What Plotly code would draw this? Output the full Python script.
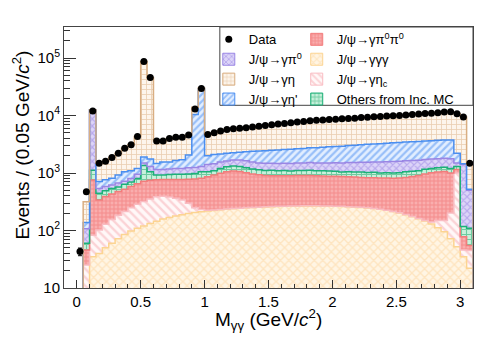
"""
M(gamma gamma) stacked MC vs data, log scale
"""

import numpy as np
import plotly.graph_objects as go

# 0.05 GeV bins from 0.00 to 3.10
bin_lo = 0.0
bin_w = 0.05

data_counts = [
    43, 470, 12000, 1480, 1600, 1860, 2200, 2700, 3100, 4300,
    87000, 46000, 3600, 3600, 4000, 4200, 4200, 4600, 13000, 29600,
    4700, 5000, 5400, 5700, 5900, 6000, 6100, 6300, 6500, 6700,
    6900, 7100, 7300, 7500, 7700, 7900, 8100, 8300, 8400, 8500,
    8600, 8800, 8900, 9000, 9200, 9300, 9500, 9600, 9800, 9900,
    10000, 10200, 10400, 10600, 10800, 11000, 11200, 11500, 11600, 10700,
    9400, 1480,
]

# MC components, listed bottom of the stack first
mc_ggg = [
    0, 0, 35, 40, 50, 60, 72, 85, 98, 110,
    120, 132, 145, 158, 168, 178, 188, 197, 205, 212,
    218, 224, 230, 235, 240, 244, 248, 251, 254, 257,
    260, 262, 264, 266, 267, 268, 268, 268, 267, 266,
    264, 262, 259, 256, 252, 247, 241, 234, 225, 214,
    202, 188, 174, 160, 146, 130, 112, 95, 72, 52,
    35, 22,
]
mc_etac = [
    0, 25, 48, 62, 78, 95, 112, 130, 150, 175,
    200, 220, 240, 235, 215, 185, 150, 100, 45, 20,
    8, 4, 2, 1, 1, 1, 1, 1, 1, 1,
    1, 1, 1, 1, 1, 1, 1, 1, 1, 1,
    1, 1, 1, 1, 1, 1, 1, 1, 1, 1,
    1, 1, 1, 1, 3, 10, 38, 55, 130, 950,
    11, 23,
]
mc_pi0pi0 = [
    0, 21, 673, 238, 262, 275, 291, 305, 332, 365,
    400, 398, 375, 377, 387, 407, 432, 483, 540, 578,
    634, 692, 758, 814, 839, 815, 761, 708, 675, 652,
    639, 637, 635, 633, 637, 641, 636, 631, 622, 613,
    615, 607, 600, 593, 587, 582, 588, 585, 594, 595,
    617, 651, 695, 749, 811, 870, 890, 910, 798, 148,
    32, 10,
]
mc_others = [
    0, 14, 364, 105, 100, 110, 95, 120, 120, 150,
    630, 300, 160, 150, 170, 180, 180, 180, 190, 240,
    190, 180, 210, 230, 250, 240, 230, 220, 210, 200,
    215, 200, 210, 185, 205, 200, 215, 200, 200, 200,
    190, 175, 190, 190, 205, 190, 200, 180, 190, 190,
    190, 215, 200, 185, 200, 190, 190, 200, 200, 150,
    39, 55,
]
mc_pi0 = [
    0, 47, 11380, 95, 90, 80, 100, 80, 100, 150,
    150, 250, 230, 230, 240, 250, 250, 270, 270, 250,
    350, 350, 350, 340, 350, 380, 400, 380, 360, 370,
    370, 370, 370, 380, 380, 380, 400, 400, 410, 420,
    440, 450, 470, 480, 500, 520, 520, 550, 560, 580,
    590, 580, 580, 580, 560, 550, 550, 540, 580, 200,
    1283, 390,
]
mc_etap = [
    0, 31, 50, 170, 180, 190, 250, 330, 300, 250,
    400, 450, 320, 400, 370, 450, 500, 820, 9150, 27700,
    600, 650, 600, 580, 570, 620, 710, 820, 920, 970,
    1010, 1050, 1080, 1120, 1150, 1190, 1220, 1260, 1300, 1350,
    1390, 1440, 1480, 1530, 1570, 1610, 1650, 1690, 1730, 1770,
    1800, 1830, 1850, 1860, 1880, 1900, 1920, 1950, 1970, 700,
    50, 20,
]
mc_eta = [
    0, 178, 50, 770, 840, 1050, 1280, 1650, 2000, 3100,
    85100, 44250, 2130, 2050, 2450, 2550, 2500, 2550, 3500, 1000,
    2700, 2900, 3250, 3500, 3650, 3700, 3750, 3920, 4080, 4250,
    4420, 4580, 4740, 4900, 5060, 5220, 5380, 5540, 5600, 5650,
    5700, 5850, 5900, 5950, 6100, 6150, 6300, 6350, 6500, 6550,
    6600, 6750, 6900, 7050, 7200, 7350, 7500, 7750, 7850, 8500,
    7950, 880,
]

FONT = "Liberation Sans, Arial, sans-serif"
FLOOR = 1.0  # below the visible log range

edges = bin_lo + bin_w * np.arange(len(data_counts) + 1)
centers = edges[:-1] + bin_w / 2

# (name, values, legend, rank, line colour, pattern)
stack = [
    ("J/ψ→γγγ", mc_ggg, "legend2", 2, "#fcd491",
     dict(shape="x", fgcolor="#fdd49a", bgcolor="#fff5e4", size=6, solidity=0.4)),
    ("J/ψ→γη<sub>c</sub>", mc_etac, "legend2", 3, "#f9bcc2",
     dict(shape="\\", fgcolor="#f7aeb4", bgcolor="#fff8f8", size=6, solidity=0.4)),
    ("J/ψ→γπ<sup>0</sup>π<sup>0</sup>", mc_pi0pi0, "legend2", 1, "#f27c7c",
     dict(shape="+", fgcolor="#f06a6a", bgcolor="#f9aeae", size=4, solidity=0.45)),
    ("Others from Inc. MC", mc_others, "legend2", 4, "#1cb078",
     dict(shape="+", fgcolor="#16a566", bgcolor="#c9f1dc", size=5, solidity=0.4)),
    ("J/ψ→γπ<sup>0</sup>", mc_pi0, "legend", 2, "#9a86e4",
     dict(shape="x", fgcolor="#937de2", bgcolor="#dcd4f8", size=5, solidity=0.4)),
    ("J/ψ→γη'", mc_etap, "legend", 4, "#4a8ef0",
     dict(shape="/", fgcolor="#4d8ff2", bgcolor="#e2eeff", size=5, solidity=0.45)),
    ("J/ψ→γη", mc_eta, "legend", 3, "#d9ae82",
     dict(shape="+", fgcolor="#d8a878", bgcolor="#fdf5ec", size=5, solidity=0.3)),
]


def step_xy(values):
    xs = np.concatenate([[edges[0]], edges[:-1], [edges[-1], edges[-1]]])
    ys = np.concatenate([[FLOOR], values, [values[-1], FLOOR]])
    return xs, ys


fig = go.Figure()

# invisible floor the first layer fills up to
bx, by = step_xy(np.full(len(data_counts), FLOOR))
fig.add_trace(go.Scatter(x=bx, y=by, mode="lines", line=dict(width=0, shape="hv"),
                         showlegend=False, hoverinfo="skip"))

cum = np.zeros(len(data_counts))
for name, vals, leg, rank, lcol, pat in stack:
    cum = cum + np.array(vals, dtype=float)
    xs, ys = step_xy(np.maximum(cum, FLOOR))
    fig.add_trace(go.Scatter(
        x=xs, y=ys, mode="lines",
        line=dict(shape="hv", color=lcol, width=1.5),
        fill="tonexty", fillcolor=pat["bgcolor"], fillpattern=pat,
        showlegend=False, hoverinfo="skip",
    ))
    # legend swatch only
    fig.add_trace(go.Bar(
        x=[None], y=[None], name=name, legend=leg, legendrank=rank,
        marker=dict(color=pat["bgcolor"], pattern=pat, line=dict(color=lcol, width=1)),
    ))

counts = np.array(data_counts, dtype=float)
fig.add_trace(go.Scatter(
    x=centers, y=counts, mode="markers", name="Data", legend="legend", legendrank=1,
    marker=dict(color="black", size=7),
    error_y=dict(type="data", array=np.sqrt(counts), color="black", thickness=1, width=2),
))

minor_y = [m * 10 ** e for e in range(1, 6) for m in range(2, 10) if m * 10 ** e < 3.4e5]

# the page body adds an 8px offset, so the figure is 8px smaller than the window
fig.update_layout(
    width=490, height=331,
    margin=dict(l=56, r=25, t=19, b=51),
    paper_bgcolor="white", plot_bgcolor="white",
    font=dict(family=FONT, color="black"),
    showlegend=True,
    legend=dict(x=0.354, y=1.01, xanchor="left", yanchor="top", bgcolor="rgba(0,0,0,0)",
                traceorder="normal", font=dict(size=13, family=FONT), tracegroupgap=0),
    legend2=dict(x=0.569, y=1.01, xanchor="left", yanchor="top", bgcolor="rgba(0,0,0,0)",
                 traceorder="normal", font=dict(size=13, family=FONT), tracegroupgap=0),
    xaxis=dict(
        range=[-0.1, 3.1], tick0=0, dtick=0.5, ticks="inside", ticklen=8,
        tickcolor="#333", showline=True, mirror=True, linecolor="#444", linewidth=1,
        showgrid=False, zeroline=False, tickfont=dict(size=15),
        minor=dict(tick0=0, dtick=0.1, ticks="inside", ticklen=4, tickcolor="#333"),
    ),
    yaxis=dict(
        type="log", range=[1, 5.54], ticks="inside", ticklen=12, tickcolor="#333",
        tickvals=[10, 100, 1e3, 1e4, 1e5],
        ticktext=["10", "10<sup>2</sup>", "10<sup>3</sup>", "10<sup>4</sup>", "10<sup>5</sup>"],
        showline=True, mirror=True, linecolor="#444", linewidth=1,
        showgrid=False, zeroline=False, tickfont=dict(size=15),
        minor=dict(tickvals=minor_y, ticks="inside", ticklen=6, tickcolor="#333"),
    ),
    shapes=[dict(type="rect", xref="paper", yref="paper", x0=0.381, x1=1, y0=0.70, y1=1,
                 line=dict(color="#444", width=1), layer="above")],
    annotations=[
        dict(text="M<sub>γγ</sub> (GeV/<i>c</i><sup>2</sup>)", xref="paper", yref="paper",
             x=0.5, y=-0.122, xanchor="center", yanchor="middle", showarrow=False,
             font=dict(size=19, family=FONT)),
        dict(text="Events / (0.05 GeV/<i>c</i><sup>2</sup>)", xref="paper", yref="paper",
             x=-0.106, y=0.548, xanchor="center", yanchor="middle", textangle=-90,
             showarrow=False, font=dict(size=19, family=FONT)),
    ],
)

fig.write_html("out.html")
